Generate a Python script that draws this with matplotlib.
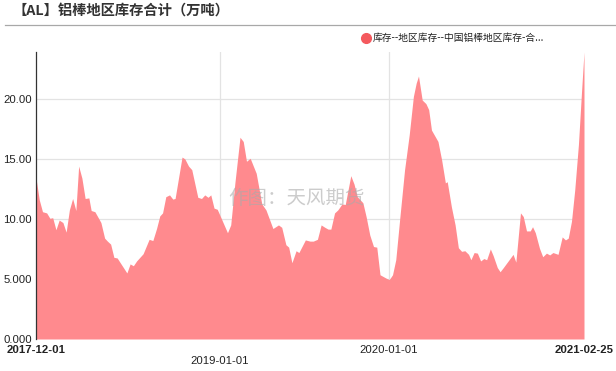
import numpy as np
import pandas as pd
import matplotlib
matplotlib.use("Agg")
import matplotlib.pyplot as plt

# data: days after 2017-12-01, stock in 10k tonnes
start = pd.Timestamp("2017-12-01")
end = pd.Timestamp("2021-02-25")
day_offsets = [
    0, 7, 14, 23, 30, 36, 43, 50, 58, 65, 72, 79, 86, 92, 99, 106, 114, 119,
    127, 140, 148, 154, 161, 168, 175, 196, 203, 210, 217, 231, 244, 252, 260,
    267, 273, 280, 288, 295, 300, 315, 321, 329, 336, 349, 357, 364, 371, 377,
    384, 391, 413, 420, 429, 440, 447, 454, 462, 475, 487, 496, 511, 523, 530,
    539, 545, 552, 561, 567, 581, 591, 598, 607, 615, 623, 630, 636, 644, 651,
    660, 667, 679, 686, 693, 705, 712, 720, 728, 735, 742, 756, 762, 769, 776,
    785, 795, 805, 814, 820, 825, 833, 841, 847, 853, 867, 875, 883, 887, 896,
    904, 911, 918, 925, 933, 938, 945, 952, 959, 966, 972, 980, 986, 995, 1001,
    1008, 1029, 1035, 1045, 1051, 1058, 1066, 1071, 1077, 1086, 1093, 1101,
    1108, 1115, 1126, 1135, 1142, 1148, 1155, 1162, 1170, 1177, 1182,
]
stock = [
    13.4, 11.6, 10.6, 10.5, 10.05, 10.1, 9.1, 9.9, 9.7, 8.9, 10.75, 11.7, 10.7,
    14.4, 13.4, 11.7, 11.75, 10.7, 10.6, 9.7, 8.4, 8.15, 7.9, 6.8, 6.75, 5.5,
    6.25, 6.1, 6.5, 7.1, 8.3, 8.2, 9.2, 10.25, 10.5, 11.85, 12.0, 11.65, 11.7,
    15.15, 15.0, 14.4, 14.1, 11.8, 11.7, 12.0, 11.8, 12.0, 10.9, 10.8, 8.85,
    9.5, 13.0, 16.8, 16.45, 14.8, 15.05, 13.8, 11.25, 10.75, 9.2, 9.5, 9.3,
    7.85, 7.65, 6.35, 7.35, 7.2, 8.25, 8.15, 8.15, 8.3, 9.5, 9.3, 9.15, 9.15,
    10.5, 10.75, 11.25, 11.2, 13.6, 12.9, 11.85, 11.35, 10.2, 8.65, 7.7, 7.65,
    5.35, 5.05, 4.95, 5.35, 6.6, 10.2, 14.1, 17.0, 20.2, 21.3, 21.9, 19.9,
    19.6, 19.1, 17.4, 16.45, 14.9, 13.0, 13.1, 11.0, 9.5, 7.6, 7.3, 7.35, 7.05,
    6.6, 7.2, 7.15, 6.5, 6.7, 6.6, 7.5, 6.95, 5.95, 5.6, 5.95, 7.05, 6.4, 10.5,
    10.2, 9.0, 9.0, 9.35, 8.85, 7.55, 6.85, 7.15, 7.0, 7.2, 7.05, 8.5, 8.25,
    8.4, 9.8, 12.4, 16.2, 20.8, 23.9,
]
tick_dates = ["2017-12-01", "2019-01-01", "2020-01-01", "2021-02-25"]
y_ticks = [0, 5, 10, 15, 20]
y_labels = ["0.000", "5.000", "10.00", "15.00", "20.00"]

title = "【AL】铝棒地区库存合计（万吨）"
series_name = "库存--地区库存--中国铝棒地区库存-合..."
cjk = ["Noto Sans CJK SC", "DejaVu Sans"]
plt.rcParams["font.family"] = ["Liberation Sans", "Noto Sans CJK SC"]

dates = start + pd.to_timedelta(day_offsets, unit="D")

W, H = 616, 371
fig = plt.figure(figsize=(W / 100, H / 100), dpi=100)
ax = fig.add_axes([36 / W, (H - 339) / H, (584 - 36) / W, (339 - 52) / H])

ax.fill_between(dates, stock, 0, color="#ff8a8e", lw=0, zorder=2)
ax.set_xlim(start, end)
ax.set_ylim(0, 23.9)

ax.set_yticks(y_ticks, y_labels)
ax.set_xticks(pd.to_datetime(tick_dates), tick_dates)
ax.tick_params(axis="both", length=0, labelsize=8.2, colors="#222222")
ax.tick_params(axis="y", pad=3)
pads = [4, 12, 4, 4]
for tk, p in zip(ax.xaxis.get_major_ticks(), pads):
    tk.set_pad(p)
labels = ax.get_xticklabels()
labels[0].set_fontweight("bold")
labels[-1].set_fontweight("bold")

ax.grid(True, color="#e3e3e3", lw=0.9, zorder=0)
xt = ax.get_xgridlines()
xt[0].set_visible(False)
xt[-1].set_visible(False)
ax.set_axisbelow(True)
for s in ["top", "right", "bottom"]:
    ax.spines[s].set_visible(False)
ax.spines["left"].set_color("#333333")
ax.spines["left"].set_linewidth(0.9)

# title and separator line
fig.text(12 / W, 1 - 11 / H, title, family=cjk, fontsize=10.3,
         color="#333333", va="center", ha="left", fontweight="bold")
fig.add_artist(plt.Line2D([5 / W, 1], [1 - 25 / H, 1 - 25 / H],
                          color="#a8a8a8", lw=0.9))

# legend
fig.add_artist(plt.Line2D([366 / W], [1 - 38 / H], marker="o", ms=7,
                          color="#f4595e", lw=0))
fig.text(373 / W, 1 - 38 / H, series_name, family=cjk, fontsize=7,
         color="#222222", va="center", ha="left")

# watermark
ax.text(0.475, 0.49, "作图：天风期货", transform=ax.transAxes, family=cjk,
        fontsize=14, color="#aaaaaa", alpha=0.6, ha="center", va="center",
        zorder=3)

fig.savefig("out.png", dpi=100)
